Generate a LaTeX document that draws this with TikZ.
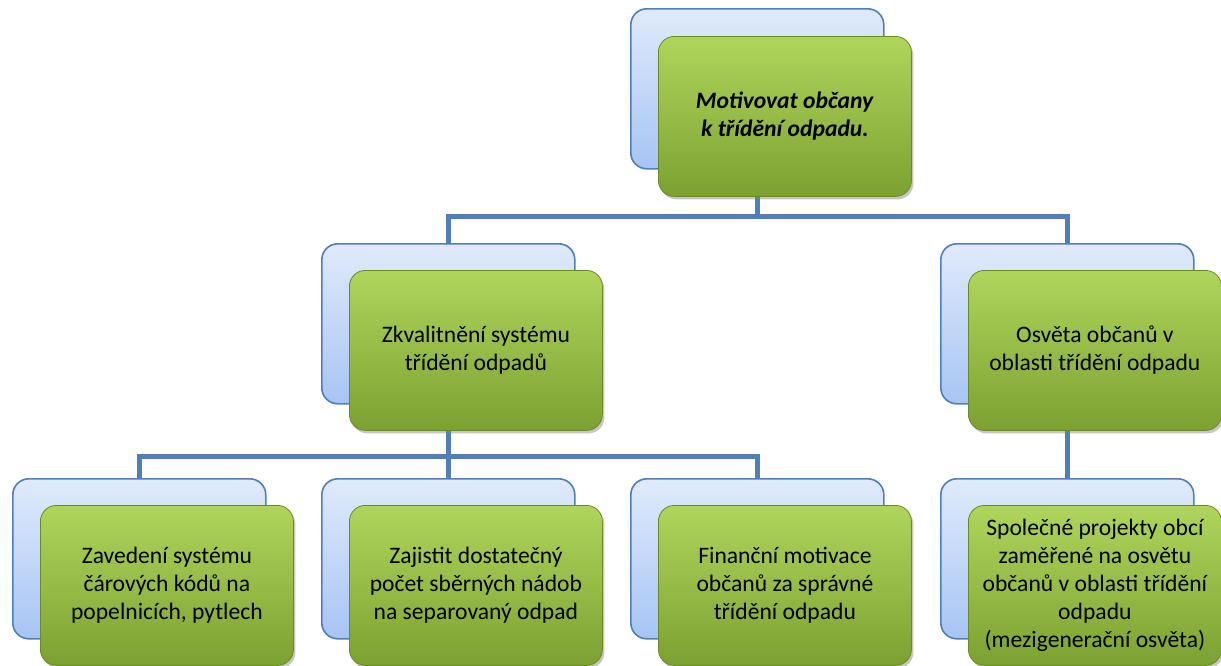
\documentclass[tikz,border=0pt]{standalone}
\usepackage{fontspec}
\setmainfont{Carlito}
\usetikzlibrary{positioning, calc, backgrounds, shadows}
\definecolor{orgblue}{HTML}{4F7FBA}
\definecolor{orgbluetop}{HTML}{E0EAFB}
\definecolor{orgbluebot}{HTML}{A6C4F4}
\definecolor{orggreentop}{HTML}{B0D55C}
\definecolor{orggreenbot}{HTML}{7CA131}
\definecolor{orggreenrim}{HTML}{6A8A28}

\tikzset{
    backbox/.style={rectangle, rounded corners=16pt, draw=orgblue, line width=1.6pt,
        top color=orgbluetop, bottom color=orgbluebot,
        minimum width=253pt, minimum height=160pt, anchor=north west},
    frontbox/.style={rectangle, rounded corners=16pt, draw=orggreenrim, line width=0.8pt,
        top color=orggreentop, bottom color=orggreenbot,
        drop shadow={opacity=0.45, shadow xshift=2pt, shadow yshift=-3pt},
        minimum width=253pt, minimum height=160pt, anchor=north west,
        align=center, text=black, font=\fontsize{23.6}{28}\selectfont},
    link/.style={draw=orgblue, line width=5pt},
}

\begin{document}
\begin{tikzpicture}[x=1pt, y=-1pt]
    \useasboundingbox (0,0) rectangle (1221,665);

    % goal
    \node[backbox] (b0) at (630,8) {};
    \node[frontbox] (f0) at ($(b0.north west)+(28,28)$)
        {\textbf{\textit{Motivovat občany}}\\\textbf{\textit{k třídění odpadu.}}};

    % second level
    \node[backbox] (b1) at (321,243) {};
    \node[frontbox] (f1) at ($(b1.north west)+(28,27)$)
        {Zkvalitnění systému\\třídění odpadů};
    \node[backbox] (b2) at (940,243) {};
    \node[frontbox] (f2) at ($(b2.north west)+(28,27)$)
        {Osvěta občanů v\\oblasti třídění odpadu};

    % measures
    \node[backbox] (b3) at (12,478) {};
    \node[frontbox] (f3) at ($(b3.north west)+(28,27)$)
        {Zavedení systému\\čárových kódů na\\popelnicích, pytlech};
    \node[backbox] (b4) at (321,478) {};
    \node[frontbox] (f4) at ($(b4.north west)+(28,27)$)
        {Zajistit dostatečný\\počet sběrných nádob\\na separovaný odpad};
    \node[backbox] (b5) at (630,478) {};
    \node[frontbox] (f5) at ($(b5.north west)+(28,27)$)
        {Finanční motivace\\občanů za správné\\třídění odpadu};
    \node[backbox] (b6) at (940,478) {};
    \node[frontbox] (f6) at ($(b6.north west)+(28,27)$)
        {Společné projekty obcí\\zaměřené na osvětu\\občanů v oblasti třídění\\odpadu\\(mezigenerační osvěta)};

    % connectors
    \begin{scope}[on background layer]
        \coordinate (j0) at ($(b0.south)+(0,47)$);
        \coordinate (j1) at ($(b1.south)+(0,52)$);
        \draw[link] (b0.south) -- (j0);
        \draw[link] (b1.north) |- (j0) -| (b2.north);
        \draw[link] (b1.south) -- (b4.north);
        \draw[link] (b3.north) |- (j1) -| (b5.north);
        \draw[link] (b2.south) -- (b6.north);
    \end{scope}
\end{tikzpicture}
\end{document}
